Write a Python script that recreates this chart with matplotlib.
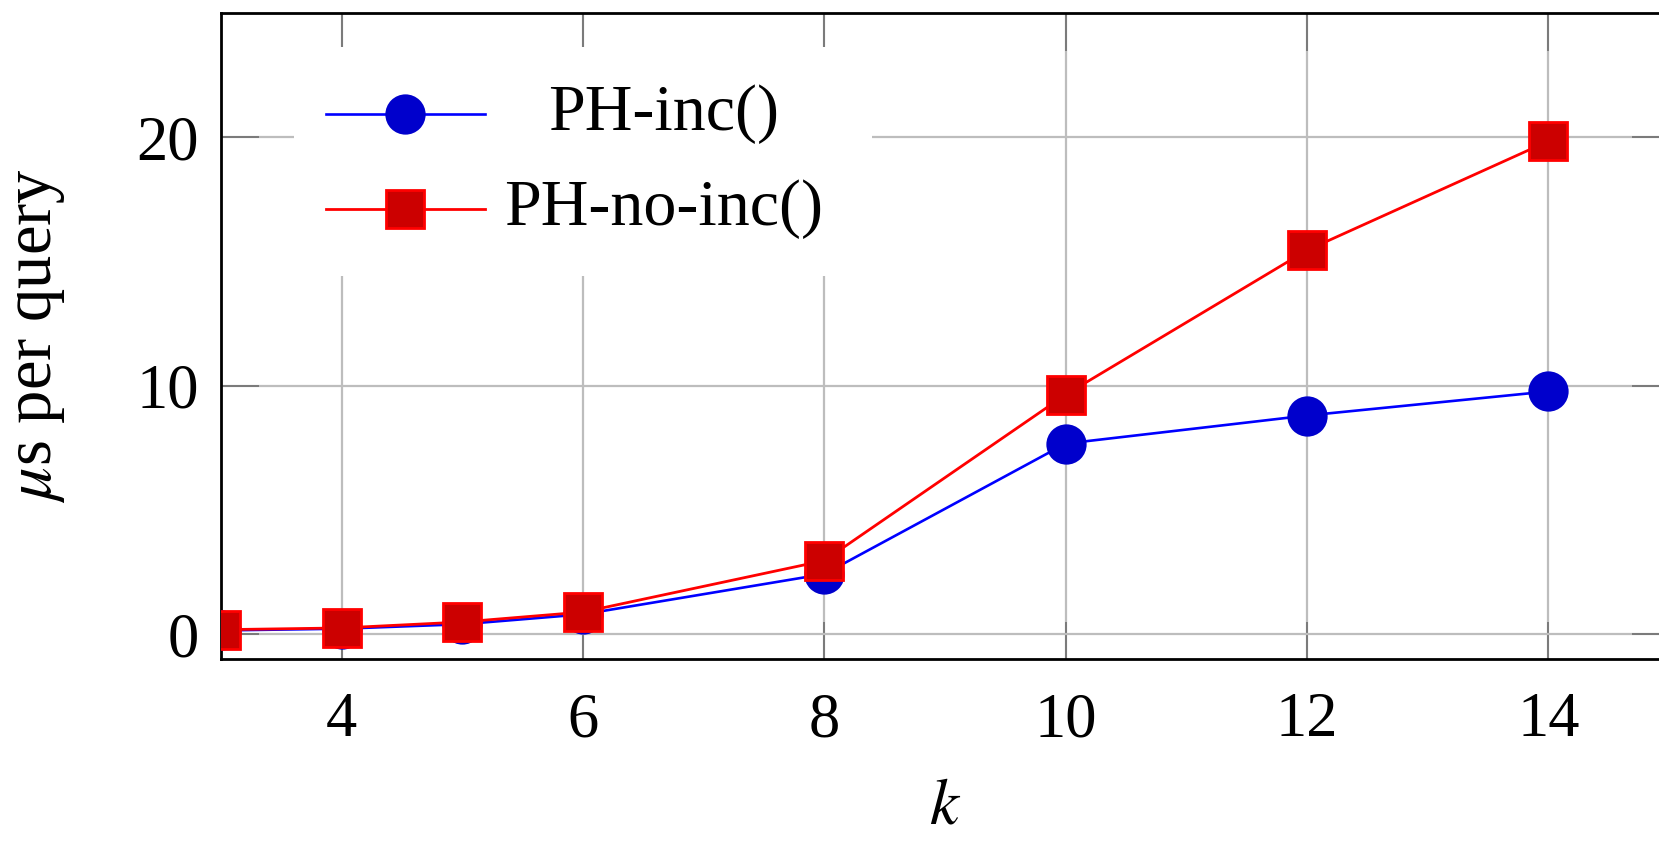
import matplotlib
matplotlib.use('Agg')
import matplotlib.pyplot as plt
from matplotlib.patches import Rectangle

# --- data ---
k = [3, 4, 5, 6, 8, 10, 12, 14]
ph_inc = [0.15, 0.22, 0.40, 0.80, 2.42, 7.67, 8.80, 9.77]
ph_no_inc = [0.18, 0.25, 0.49, 0.89, 2.96, 9.64, 15.45, 19.84]
x_ticks = [4, 6, 8, 10, 12, 14]
y_ticks = [0, 10, 20]
series_labels = ['PH-inc()', 'PH-no-inc()']

plt.rcParams['font.family'] = ['Liberation Serif', 'DejaVu Serif']
plt.rcParams['mathtext.fontset'] = 'stix'

fig = plt.figure(figsize=(16.59, 8.41), dpi=100)
# right side of the axes box runs just past the edge of the picture
ax = fig.add_axes([0.1332, 0.2164, 0.8728, 0.7681])

blue = dict(color='#0000ff', lw=1.9, marker='o', ms=29, mfc='#0000cc', mec='#0000cc', mew=0)
red = dict(color='#ff0000', lw=2.0, marker='s', ms=27.5, mfc='#cc0000', mec='#ff0000', mew=2)

ax.plot(k, ph_inc, zorder=3, **blue)
ax.plot(k, ph_no_inc, zorder=4, **red)

ax.set_xlim(3, 15)
ax.set_ylim(-1, 25)
ax.set_xticks(x_ticks)
ax.set_yticks(y_ticks)
ax.grid(True, color='#bdbdbd', lw=1.6)
ax.set_axisbelow(True)
ax.tick_params(direction='in', length=27, width=1.2, color='#6e6e6e',
               top=True, right=True, labelsize=45)
ax.tick_params(axis='x', pad=24)
ax.tick_params(axis='y', pad=16)
for s in ax.spines.values():
    s.set_linewidth(2)
    s.set_color('black')

ax.set_xlabel('$k$', fontsize=47, labelpad=20)
ax.set_ylabel(r'$\mu$s per query', fontsize=48, labelpad=50)

# --- legend, entries centred like the original ---
ax.add_patch(Rectangle((0.0504, 0.5935), 0.399, 0.3535, transform=ax.transAxes,
                       facecolor='white', edgecolor='none', zorder=5))
leg_y = [0.8439, 0.697]
for y, st, lab in zip(leg_y, [blue, red], series_labels):
    ax.plot([0.0725, 0.127, 0.1823], [y, y, y], transform=ax.transAxes,
            markevery=[1], zorder=6, clip_on=False, **st)
    ax.text(0.306, y, lab, transform=ax.transAxes, ha='center', va='center',
            fontsize=47.5, zorder=7)

fig.savefig('out.png', dpi=100)
